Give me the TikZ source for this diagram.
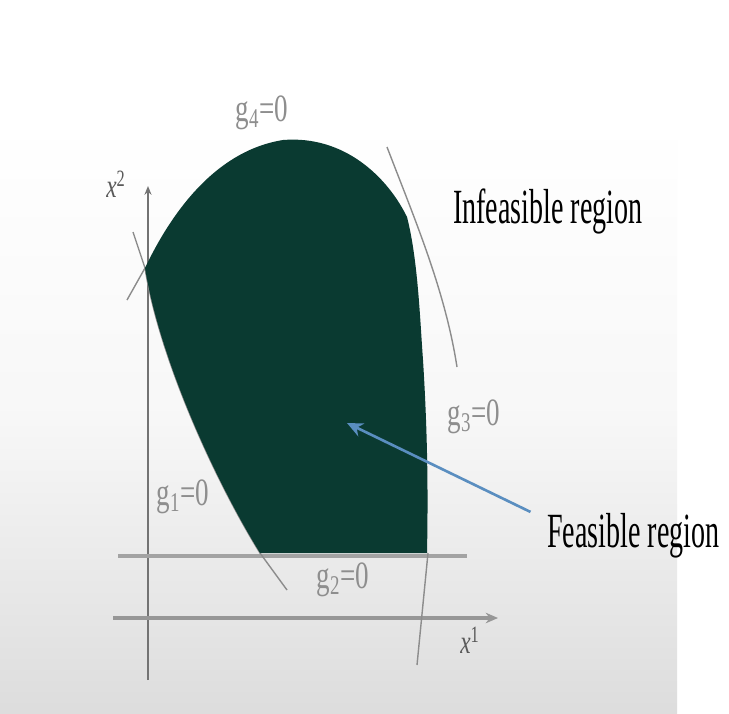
\documentclass[tikz,border=0pt]{standalone}
\usepackage{fontspec}
\setmainfont{Liberation Serif}
\newfontfamily\regionfont[FakeStretch=0.57]{Liberation Serif}
\newfontfamily\glabelfont[FakeStretch=0.7]{Liberation Serif}
\usetikzlibrary{arrows.meta}
\definecolor{feasgreen}{HTML}{0A3A31}
\definecolor{linegray}{HTML}{8C8C8C}
\definecolor{labgray}{HTML}{8E8E8E}
\definecolor{arrowblue}{HTML}{5A8EC0}
\tikzset{
  glab/.style={text=labgray, font=\glabelfont\fontsize{22}{24}\selectfont},
  regionlab/.style={text=black, font=\regionfont\fontsize{28}{30}\selectfont, anchor=base west},
  axislab/.style={text=black!65, font=\glabelfont\fontsize{19}{21}\selectfont},
  constraint/.style={draw=linegray, line width=0.8pt},
}
\begin{document}
\begin{tikzpicture}[x=0.02cm, y=-0.02cm]
	\useasboundingbox (0,0) rectangle (729,713);
	\fill[white] (0,0) rectangle (729,713);
	\shade[top color=white, bottom color=gray!27, middle color=gray!6] (0,120) rectangle (677,713);
	\coordinate (ylow) at (148,680);
	\coordinate (ytop) at (148,186);
	\coordinate (xlow) at (113,618);
	\coordinate (xtop) at (498,618);
	\coordinate (gtwoa) at (118,556);
	\coordinate (gtwob) at (467,556);
	\draw[black!55, line width=1.1pt, -{Stealth[length=5pt,width=4pt]}] (ylow) -- (ytop);
	\draw[linegray!90, line width=2.2pt, -{Stealth[length=7pt,width=6pt]}] (xlow) -- (xtop);
	\draw[linegray!80, line width=2.3pt] (gtwoa) -- (gtwob);
	\draw[constraint] (133,232) -- (145,268) .. controls (160,360) and (215,480) .. (260,553) -- (287,590);
	\draw[constraint] (127,300) -- (145,268);
	\draw[constraint] (387,147) .. controls (415,220) and (445,290) .. (457,367);
	\draw[constraint] (428,553) -- (417,665);
	\fill[feasgreen] (145,268) .. controls (175,205) and (220,150) .. (283,140)
		.. controls (345,135) and (388,178) .. (407,217)
		.. controls (418,260) and (420,320) .. (423,360)
		.. controls (428,440) and (428,500) .. (427,553)
		-- (260,553) .. controls (215,480) and (160,360) .. (145,268) -- cycle;
	\node[glab] (gfour) at (262,113) {g\textsubscript{4}=0};
	\node[glab] (gone) at (183,497) {g\textsubscript{1}=0};
	\node[glab] (gtwo) at (343,580) {g\textsubscript{2}=0};
	\node[glab] (gthree) at (474,417) {g\textsubscript{3}=0};
	\node[axislab] (xtwo) at (116,184) {\textit{x}\textsuperscript{2}};
	\node[axislab] (xone) at (470,640) {\textit{x}\textsuperscript{1}};
	\node[regionlab] (infeas) at (447,223) {Infeasible region};
	\node[regionlab] (feas) at (541,547) {Feasible region};
	\coordinate (feastip) at (347,423);
	\draw[arrowblue, line width=1.5pt, -{Stealth[length=9pt,width=8pt]}] ([xshift=-6pt,yshift=-3pt]feas.north west) -- (feastip);
\end{tikzpicture}
\end{document}
